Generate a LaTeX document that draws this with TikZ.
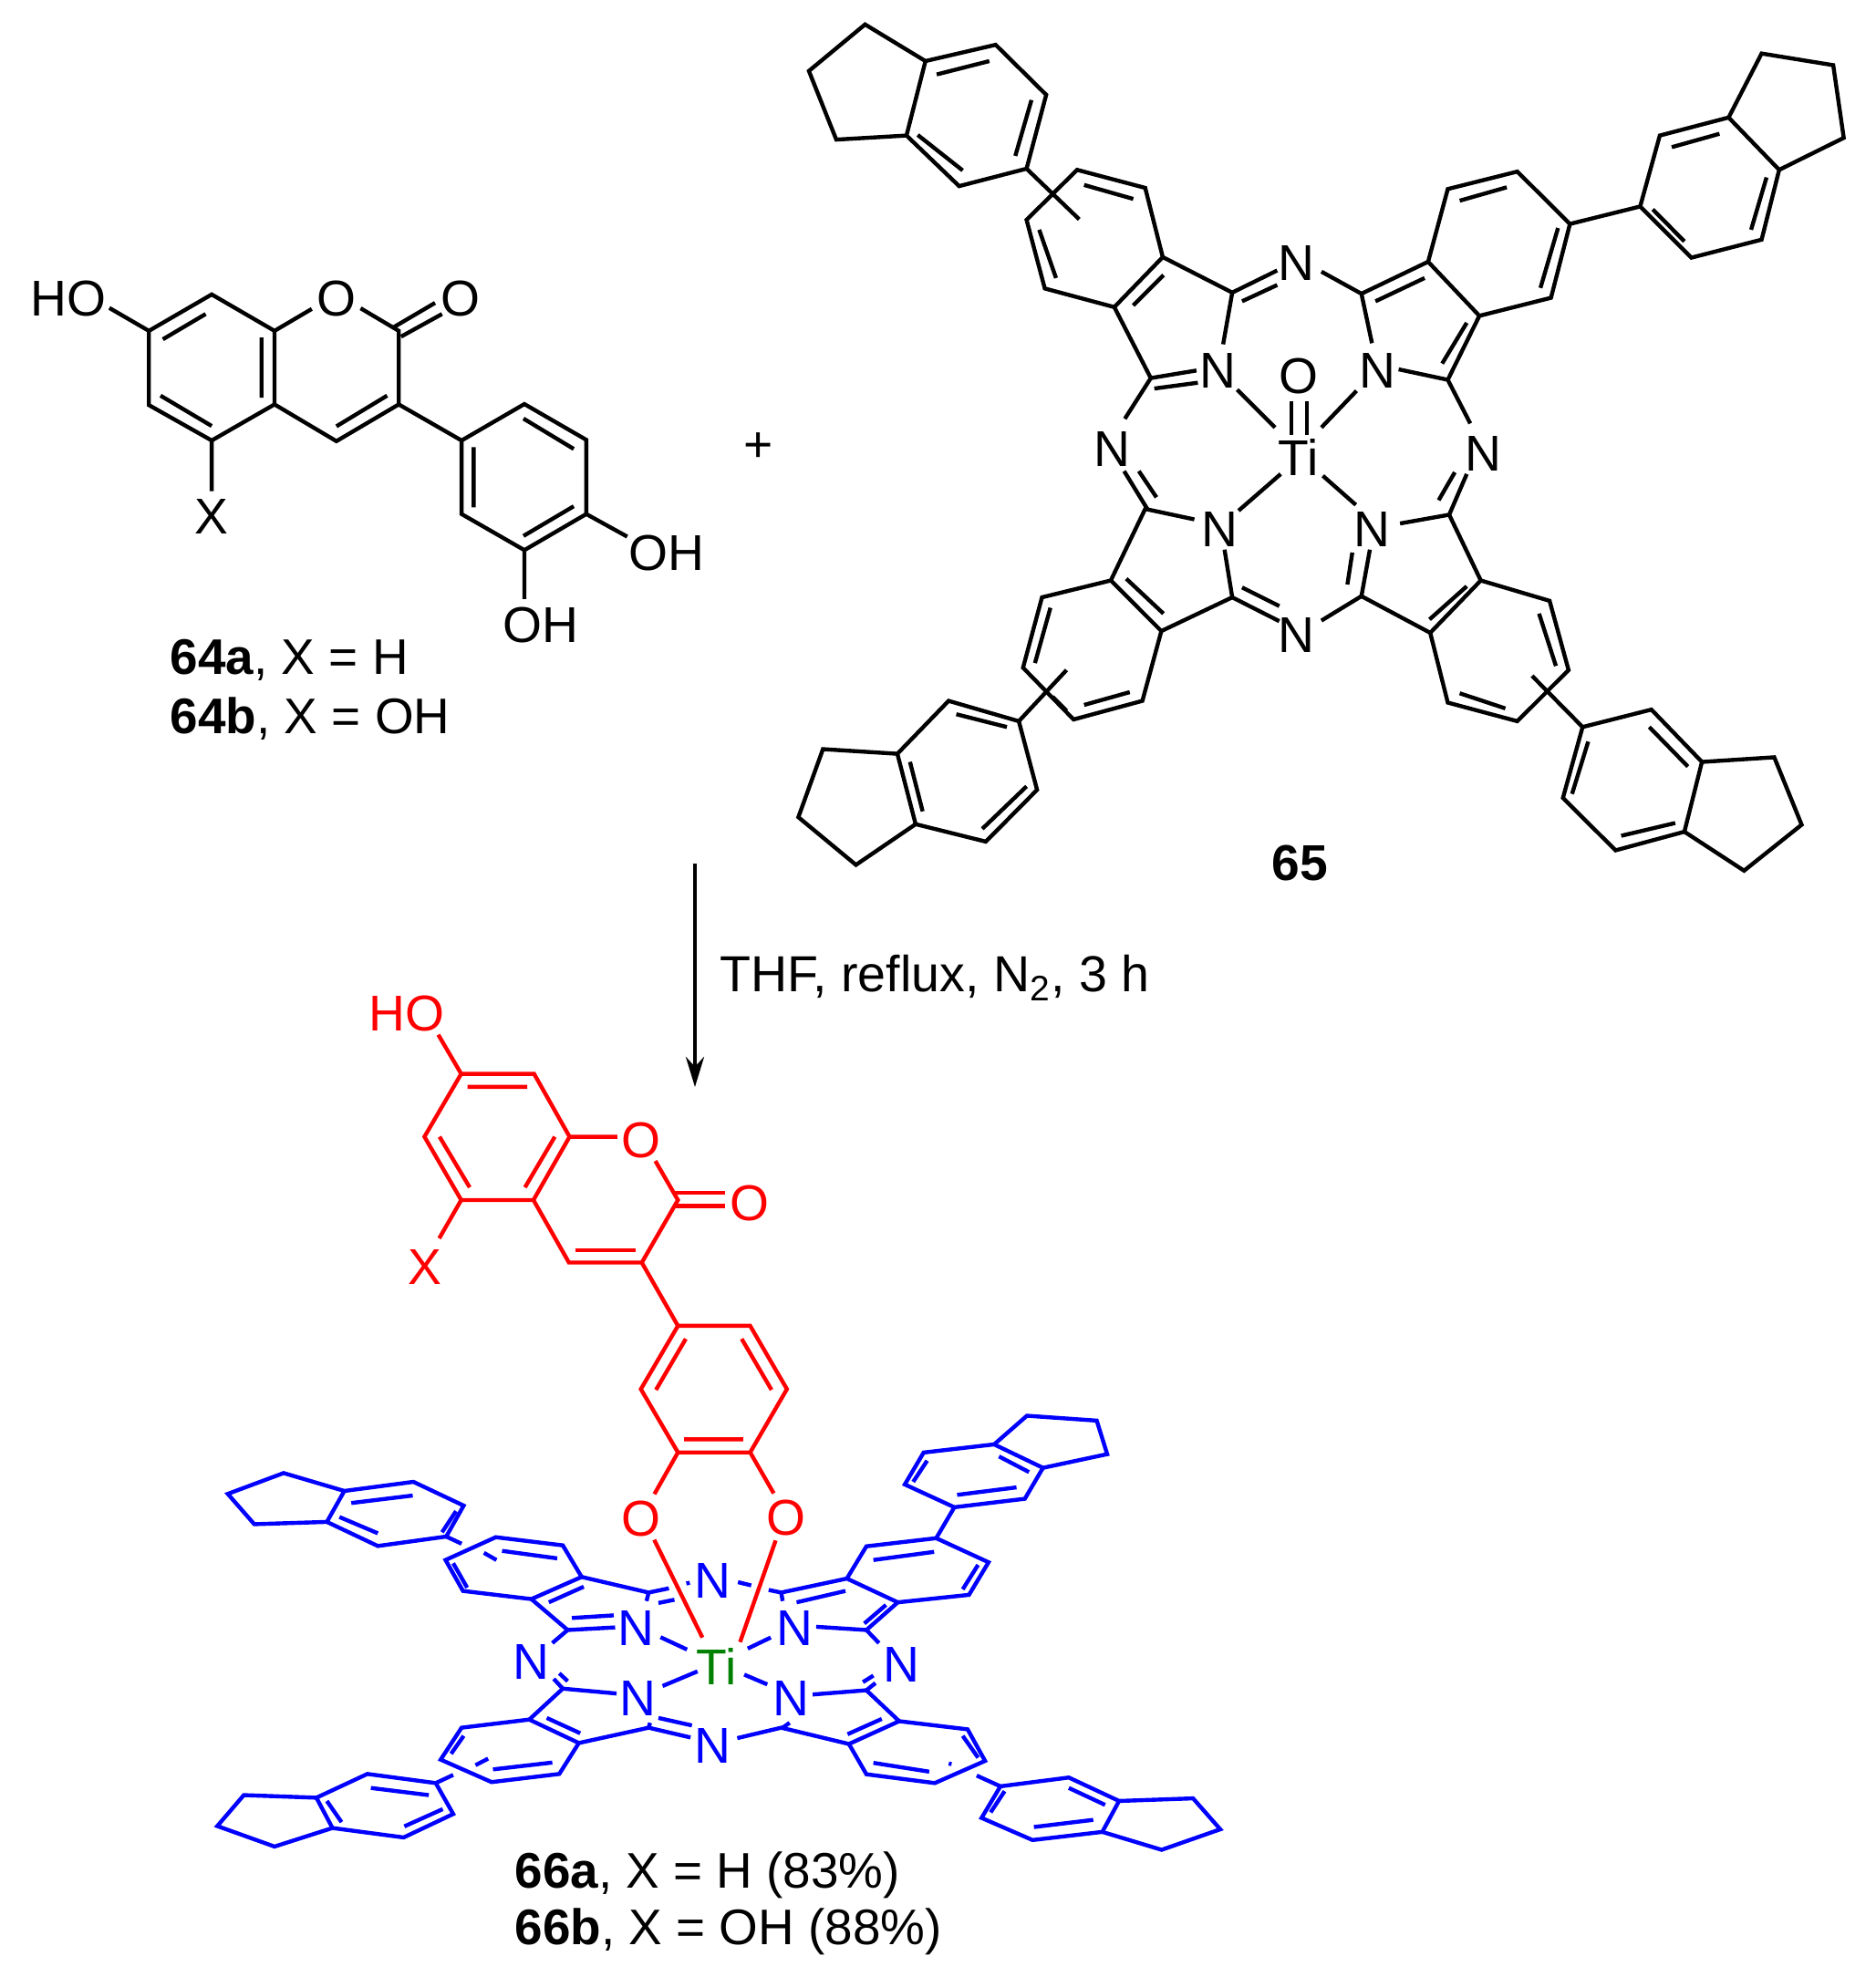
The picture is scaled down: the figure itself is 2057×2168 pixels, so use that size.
\documentclass[tikz,border=0pt]{standalone}
\usepackage{fontspec}
\setmainfont{Liberation Sans}
\usetikzlibrary{arrows.meta}
\tikzset{
  bond/.style={line width=1.25pt,line join=miter},
  atom/.style={font=\fontsize{15.7}{18}\selectfont,inner sep=0pt,yshift=-0.012cm},
  caption/.style={font=\fontsize{15.6}{18}\selectfont,inner sep=0pt,anchor=west,yshift=-0.035cm},
  darrow/.style={-{Stealth[length=0.33cm,width=0.2cm]},line width=1.25pt}
}
\begin{document}
\begin{tikzpicture}[x=0.01cm,y=-0.01cm]
    \useasboundingbox (0,0) rectangle (2057,2168);

    %64
    \begin{scope}[shift={(0,250)},xscale=0.5102,yscale=0.3699]
    \draw [bond] (320,305) -- (455,197) -- (590,305) -- (590,523) -- (455,630) -- (320,525) -- cycle;
    \draw [bond] (350,330) -- (442,255) (562,325) -- (562,503) (345,497) -- (455,587);
    \draw [bond] (235,237) -- (320,305);
    \draw [bond] (590,305) -- (670,240) (775,238) -- (857,305) -- (857,523) -- (723,632) -- (590,523);
    \draw [bond] (723,588) -- (832,497);
    \draw [bond] (845,295) -- (935,222) (862,322) -- (950,255);
    \draw [bond] (857,523) -- (992,630);
    \draw [bond] (992,630) -- (1127,522) -- (1260,628) -- (1260,848) -- (1127,955) -- (992,848) -- cycle;
    \draw [bond] (1125,565) -- (1233,655) (1018,650) -- (1018,828) (1233,825) -- (1125,913);
    \draw [bond] (1260,848) -- (1348,915) (1127,955) -- (1127,1100) (455,630) -- (455,780);
    \node [atom] (ho1) at (147,205) {HO};
    \node [atom] (o1) at (723,205) {O};
    \node [atom] (o2) at (990,205) {O};
    \node [atom] (x1) at (455,853) {X};
    \node [atom] (oh1) at (1432,960) {OH};
    \node [atom] (oh2) at (1163,1175) {OH};
    \node [caption] (lab64a) at (365,1272) {\textbf{64a}, X = H};
    \node [caption] (lab64b) at (365,1445) {\textbf{64b}, X = OH};
    \end{scope}

    \node [atom] (plus) at (832,489) {+};

    %65
    \begin{scope}[shift={(850,0)},xscale=0.7698,yscale=0.6378]
    % top left
    \draw [bond] (214,105) -- (128,42) -- (48,122) -- (87,240) -- (187,233);
    \draw [bond] (214,105) -- (314,77) -- (386,163) -- (358,290) -- (262,320) -- (187,233) -- cycle;
    \draw [bond] (230,128) -- (305,105) (365,172) -- (342,268) (267,293) -- (203,232);
    \draw [bond] (358,290) -- (433,377);
    \draw [bond] (552,442) -- (527,323) -- (430,292) -- (358,378) -- (384,496) -- (483,528) -- cycle;
    \draw [bond] (510,342) -- (440,318) (376,395) -- (400,478) (553,473) -- (510,525);
    \draw [bond] (552,442) -- (651,503) -- (638,592) (483,528) -- (535,650) -- (600,637);
    \draw [bond] (540,668) -- (602,658) (651,503) -- (715,465) (665,518) -- (715,490);
    \draw [bond] (535,650) -- (498,720);
    % top right
    \draw [bond] (930,450) -- (958,325) -- (1057,295) -- (1132,385) -- (1105,512) -- (1003,543) -- cycle;
    \draw [bond] (975,345) -- (1042,322) (1115,392) -- (1090,495);
    \draw [bond] (1003,543) -- (958,653) (985,555) -- (950,625);
    \draw [bond] (930,450) -- (835,505) (925,478) -- (855,518);
    \draw [bond] (778,467) -- (835,505) -- (850,590);
    \draw [bond] (888,635) -- (958,653) -- (990,728);
    \draw [bond] (1132,385) -- (1232,355);
    \draw [bond] (1232,355) -- (1260,233) -- (1358,202) -- (1430,292) -- (1405,412) -- (1305,443) -- cycle;
    \draw [bond] (1277,253) -- (1345,230) (1412,305) -- (1390,395) (1295,415) -- (1250,360);
    \draw [bond] (1358,202) -- (1405,92) -- (1507,112) -- (1522,237) -- (1430,292);
    % bottom left
    \draw [bond] (497,810) -- (530,875) (518,810) -- (543,855);
    \draw [bond] (597,893) -- (527,875) -- (478,998) -- (550,1085) -- (651,1027) -- (640,945);
    \draw [bond] (500,995) -- (553,1055);
    \draw [bond] (651,1027) -- (718,1068) (665,1010) -- (718,1042);
    \draw [bond] (478,998) -- (380,1027) -- (353,1148) -- (425,1237) -- (523,1205) -- (550,1085);
    \draw [bond] (392,1045) -- (370,1140) (395,1198) -- (415,1222) (440,1212) -- (505,1190);
    \draw [bond] (347,1240) -- (415,1152);
    \draw [bond] (347,1240) -- (247,1205) -- (174,1296) -- (200,1417) -- (300,1447) -- (373,1358) -- cycle;
    \draw [bond] (258,1228) -- (330,1250) (192,1310) -- (210,1395) (295,1425) -- (358,1352);
    \draw [bond] (174,1296) -- (68,1288) -- (33,1405) -- (115,1487) -- (200,1417);
    % bottom right
    \draw [bond] (960,885) -- (985,815) (945,860) -- (968,812);
    \draw [bond] (890,900) -- (960,885) -- (1005,998) -- (933,1088) -- (835,1025) -- (847,945);
    \draw [bond] (985,1008) -- (932,1065) (815,1005) -- (822,950) (835,1025) -- (778,1067);
    \draw [bond] (1005,998) -- (1103,1033) -- (1130,1152) -- (1057,1240) -- (958,1208) -- (933,1088);
    \draw [bond] (1088,1055) -- (1112,1145) (1040,1218) -- (975,1192);
    \draw [bond] (1150,1250) -- (1078,1162);
    \draw [bond] (1150,1250) -- (1248,1220) -- (1320,1310) -- (1295,1430) -- (1197,1462) -- (1122,1372) -- cycle;
    \draw [bond] (1245,1250) -- (1300,1318) (1282,1415) -- (1205,1437) (1135,1365) -- (1158,1275);
    \draw [bond] (1320,1310) -- (1423,1302) -- (1462,1418) -- (1380,1497) -- (1295,1430);
    % centre
    \draw [bond] (735,690) -- (735,748) (757,690) -- (757,748);
    \draw [bond] (658,670) -- (712,735) (828,672) -- (778,735) (720,815) -- (660,878) (780,818) -- (827,868);
    \node [atom] (ti) at (745,785) {Ti};
    \node [atom] (otop) at (745,645) {O};
    \foreach \n/\x/\y in {na/630/635,nb/858/635,nc/633/908,nd/850/908,ne/742/450,nf/480/770,ng/1008/778,nh/742/1090}
      \node [atom] (\n) at (\x,\y) {N};
    \node [atom] (lab65) at (747,1482) {\textbf{65}};
    \end{scope}

    %arrow
    \coordinate (from) at (762,947);
    \coordinate (to) at (762,1192);
    \draw [darrow] (from) -- (to);
    \node [caption,font=\fontsize{15.8}{18}\selectfont] (cond) at (789,1069) {THF, reflux, N\textsubscript{2}, 3 h};

    %66 coumarin part
    \begin{scope}[shift={(380,1060)},xscale=0.3444,yscale=0.4082,color=red]
    \draw [bond] (365,288) -- (597,288) -- (710,457) -- (595,627) -- (365,627) -- (248,457) -- cycle;
    \draw [bond] (385,323) -- (575,323) (663,457) -- (568,593) (392,593) -- (296,457);
    \draw [bond] (292,183) -- (365,288) (710,457) -- (862,457);
    \draw [bond] (983,522) -- (1055,627) -- (940,795) -- (708,795) -- (595,627);
    \draw [bond] (728,762) -- (920,762) (1045,608) -- (1205,608) (1045,643) -- (1205,643);
    \draw [bond] (365,627) -- (295,730) (940,795) -- (1055,965);
    \draw [bond] (1055,965) -- (1285,965) -- (1402,1135) -- (1285,1305) -- (1055,1305) -- (937,1135) -- cycle;
    \draw [bond] (1080,1000) -- (985,1137) (1258,1000) -- (1353,1137) (1075,1270) -- (1263,1270);
    \draw [bond] (1055,1305) -- (980,1417) (1285,1305) -- (1360,1415);
    \node [atom] (ho2) at (192,122) {HO};
    \node [atom] (o3) at (938,463) {O};
    \node [atom] (o4) at (1283,632) {O};
    \node [atom] (x2) at (250,803) {X};
    \node [atom] (o5) at (938,1480) {O};
    \node [atom] (o6) at (1400,1477) {O};
    \end{scope}

    %66 Pc part
    \begin{scope}[shift={(200,1500)},xscale=0.7653,yscale=0.3571]
    \draw [bond,red] (676,528) -- (745,828) (850,530) -- (799,842);
    \begin{scope}[color=blue]
    % top left
    \draw [bond] (232,378) -- (145,323) -- (65,387) -- (103,480) -- (207,473);
    \draw [bond] (378,518) -- (280,547) -- (207,473) -- (232,378) -- (331,350) -- (403,423) -- cycle;
    \draw [bond] (242,415) -- (330,392) (392,440) -- (372,505) (225,458) -- (280,508);
    \draw [bond] (378,518) -- (400,540);
    \draw [bond] (572,642) -- (545,545) -- (449,520) -- (377,590) -- (402,685) -- (500,710) -- cycle;
    \draw [bond] (537,585) -- (458,562) (388,600) -- (408,675) (432,568) -- (450,590);
    \draw [bond] (572,642) -- (668,690) -- (697,677) (668,690) -- (665,716) (682,722) -- (705,712) (722,662) -- (727,660);
    \draw [bond] (575,672) -- (525,720);
    \draw [bond] (500,710) -- (552,805) -- (620,797) (558,768) -- (618,760) (552,805) -- (530,845);
    % top right
    \draw [bond] (796,658) -- (815,668) (840,682) -- (858,690) -- (952,647) -- (1025,720) -- (980,805) -- (908,795);
    \draw [bond] (950,685) -- (880,720) (858,690) -- (860,716) (1008,728) -- (977,785) (980,805) -- (998,845);
    \draw [bond] (952,647) -- (980,548) -- (1080,523) -- (1155,597) -- (1127,697) -- (1025,720);
    \draw [bond] (990,590) -- (1077,565) (1140,605) -- (1118,680);
    \draw [bond] (1080,523) -- (1106,428);
    \draw [bond] (1106,428) -- (1207,402) -- (1233,307) -- (1163,235) -- (1062,260) -- (1035,358) -- cycle;
    \draw [bond] (1110,390) -- (1195,367) (1213,320) -- (1170,272) (1067,285) -- (1047,350);
    \draw [bond] (1163,235) -- (1210,147) -- (1310,162) -- (1325,265) -- (1233,307);
    % bottom left
    \draw [bond] (532,955) -- (545,985) (540,938) -- (552,962);
    \draw [bond] (622,1000) -- (545,985) -- (497,1080) -- (568,1152) -- (668,1105) -- (728,1135);
    \draw [bond] (522,1075) -- (570,1122) (682,1075) -- (730,1098) (668,1105) -- (670,1090);
    \draw [bond] (497,1080) -- (400,1105) -- (370,1203) -- (443,1272) -- (540,1247) -- (568,1152);
    \draw [bond] (403,1130) -- (385,1185) (420,1220) -- (438,1200) (445,1233) -- (530,1212);
    \draw [bond] (363,1275) -- (388,1250);
    \draw [bond] (363,1275) -- (265,1247) -- (192,1320) -- (215,1413) -- (317,1442) -- (388,1370) -- cycle;
    \draw [bond] (270,1290) -- (353,1312) (207,1330) -- (228,1395) (318,1408) -- (373,1355);
    \draw [bond] (192,1320) -- (88,1312) -- (50,1407) -- (132,1470) -- (215,1413);
    % bottom right
    \draw [bond] (903,1003) -- (980,990) -- (1027,1085) -- (955,1155) -- (858,1105) -- (795,1137);
    \draw [bond] (1002,1078) -- (953,1125) (870,1090) -- (860,1105) (975,965) -- (990,945) (980,990) -- (993,968);
    \draw [bond] (1027,1085) -- (1125,1110) -- (1150,1207) -- (1078,1275) -- (980,1248) -- (955,1155);
    \draw [bond] (1118,1130) -- (1140,1197) (1070,1240) -- (990,1213) (1098,1215) -- (1102,1217);
    \draw [bond] (1138,1252) -- (1172,1285);
    \draw [bond] (1172,1285) -- (1270,1258) -- (1342,1330) -- (1318,1425) -- (1218,1450) -- (1145,1382) -- cycle;
    \draw [bond] (1270,1290) -- (1322,1342) (1305,1388) -- (1220,1410) (1158,1365) -- (1178,1300);
    \draw [bond] (1342,1330) -- (1448,1322) -- (1487,1417) -- (1403,1480) -- (1318,1425);
    % centre
    \draw [bond] (685,827) -- (723,865) (810,862) -- (843,828) (688,977) -- (738,932) (805,942) -- (838,972);
    \foreach \n/\x/\y in {pa/650/797,pb/877/795,pc/652/1013,pd/872/1013,pe/760/650,pf/500/900,pg/1030/908,ph/760/1158}
      \node [atom] (\n) at (\x,\y) {N};
    \end{scope}
    \node [atom,color=green!50!black] (ti2) at (765,915) {Ti};
    \end{scope}

    \node [caption] (lab66a) at (564,2053) {\textbf{66a}, X = H (83\%)};
    \node [caption] (lab66b) at (564,2115) {\textbf{66b}, X = OH (88\%)};
\end{tikzpicture}
\end{document}
